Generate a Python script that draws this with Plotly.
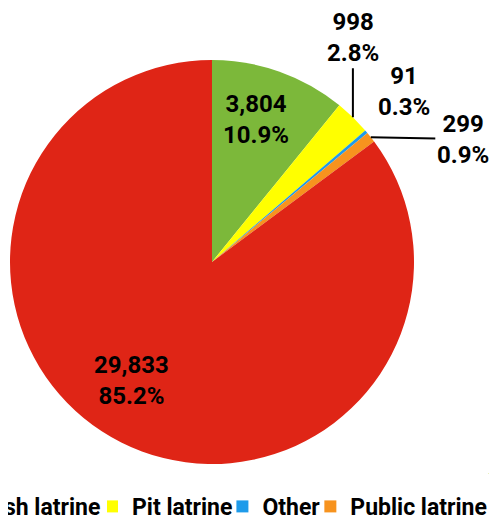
import math
import plotly.graph_objects as go

# ---- data ----
labels = ["Flush latrine", "Pit latrine", "Other", "Public latrine", "No latrine"]
values = [3804, 998, 91, 299, 29833]
colors = ["#7CB83A", "#FFFF00", "#1E9BEA", "#F7931E", "#DF2516"]

# label placement (pixels, relative to the slice's mid-point on the rim)
label_dx = [-24, 0, 38, 92, 10]
label_dy = [48, -80, -40, 2, -62]      # screen pixels, down positive
label_arrow = [False, True, False, True, False]

# figure sized to the visible part of the page (8px body margin)
W, H = 481, 516
ML, MR, MT, MB = 0, 0, 0, 50
FONT = "Roboto"

# pie geometry (pixels in the figure canvas)
CX, CY, R = 204, 254, 202
gw, gh = W - ML - MR, H - MT - MB
dom_x = [(CX - R - ML) / gw, (CX + R - ML) / gw]
dom_y = [(gh - (CY + R - MT)) / gh, (gh - (CY - R - MT)) / gh]

fig = go.Figure()

fig.add_trace(go.Pie(
    labels=labels, values=values, sort=False, direction="clockwise", rotation=0,
    marker=dict(colors=colors, line=dict(width=0)),
    textinfo="none",
    showlegend=False,
    domain=dict(x=dom_x, y=dom_y),
    hoverinfo="label+value+percent",
))

# legend-only entries (tiny, invisible pies)
fig.add_trace(go.Pie(
    labels=labels[:1], values=values[:1], sort=False,
    marker=dict(colors=colors[:1], line=dict(width=0)),
    textinfo="none", hoverinfo="skip", legend="legend",
    domain=dict(x=[0.999, 1.0], y=[0.0, 0.001]),
))
fig.add_trace(go.Pie(
    labels=labels[1:4], values=values[1:4], sort=False,
    marker=dict(colors=colors[1:4], line=dict(width=0)),
    textinfo="none", hoverinfo="skip", legend="legend2",
    domain=dict(x=[0.999, 1.0], y=[0.0, 0.001]),
))

# data labels from the values
total = sum(values)
cum = 0
annotations = []
for i, v in enumerate(values):
    mid = (cum + v / 2) / total * 2 * math.pi
    cum += v
    px = CX + R * math.sin(mid)
    py = CY - R * math.cos(mid)
    xp = (px - ML) / gw
    yp = (gh - (py - MT)) / gh
    txt = f"{v:,}<br>{v / total * 100:.1f}%"
    a = dict(x=xp, y=yp, xref="paper", yref="paper", text=txt,
             font=dict(family=FONT, size=24, color="black", weight="bold"),
             align="center")
    if label_arrow[i]:
        a.update(showarrow=True, ax=label_dx[i], ay=label_dy[i], axref="pixel", ayref="pixel",
                 arrowhead=0, arrowwidth=2, arrowcolor="black", standoff=0, startstandoff=0)
    else:
        a.update(showarrow=False, xshift=label_dx[i], yshift=-label_dy[i],
                 xanchor="center", yanchor="middle")
    annotations.append(a)

legend_common = dict(
    orientation="h", yanchor="top", xanchor="left",
    font=dict(family=FONT, size=23, color="black", weight="bold"),
    bgcolor="rgba(0,0,0,0)", indentation=-15, itemclick=False, itemdoubleclick=False,
)

fig.update_layout(
    width=W, height=H,
    margin=dict(l=ML, r=MR, t=MT, b=MB, autoexpand=False),
    paper_bgcolor="white", plot_bgcolor="white",
    annotations=annotations,
    legend=dict(x=-0.1262, y=-0.0235, **legend_common),
    legend2=dict(x=0.2058, y=-0.0235, **legend_common),
)

fig.write_html("out.html")
